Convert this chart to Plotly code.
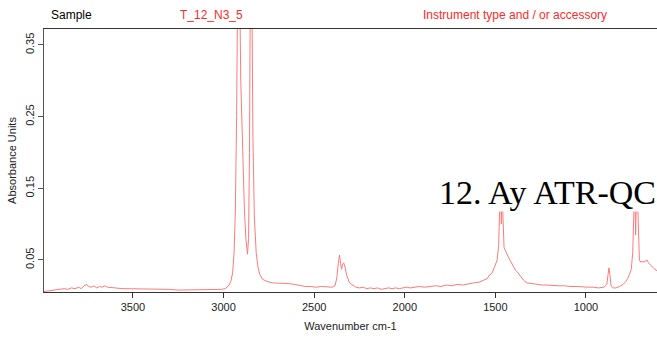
import plotly.graph_objects as go

# Spectrum (wavenumber cm-1, absorbance units)
wavenumber = [
    3991, 3960, 3930, 3900, 3880, 3860, 3840, 3820, 3800, 3785, 3770, 3755, 3745, 3730,
    3715, 3700, 3685, 3670, 3655, 3640, 3620, 3600, 3560, 3520, 3480, 3440, 3400, 3350,
    3300, 3250, 3200, 3150, 3100, 3050, 3010, 2990, 2970, 2960, 2950, 2942, 2935, 2928,
    2922, 2917, 2912, 2905, 2895, 2885, 2877, 2868, 2862, 2857, 2852, 2848, 2843, 2838,
    2830, 2820, 2810, 2800, 2785, 2760, 2730, 2700, 2670, 2640, 2610, 2580, 2550, 2520,
    2490, 2460, 2430, 2400, 2385, 2375, 2367, 2360, 2354, 2349, 2343, 2337, 2330, 2320,
    2305, 2288, 2270, 2250, 2230, 2210, 2190, 2170, 2150, 2130, 2110, 2090, 2070, 2050,
    2030, 2010, 1990, 1970, 1950, 1920, 1890, 1860, 1830, 1800, 1770, 1740, 1710, 1680,
    1650, 1620, 1590, 1565, 1545, 1533, 1520, 1505, 1490, 1482, 1476, 1471, 1467, 1463,
    1458, 1452, 1446, 1440, 1430, 1420, 1405, 1390, 1378, 1365, 1345, 1326, 1300, 1270,
    1240, 1215, 1180, 1150, 1120, 1088, 1050, 1020, 990, 960, 930, 900, 885, 878,
    873, 868, 862, 850, 835, 815, 795, 780, 770, 760, 750, 742, 736, 731,
    726, 720, 715, 710, 705, 698, 690, 680, 670, 663, 655, 640, 625, 608,
]
absorbance = [
    0.006, 0.007, 0.008, 0.009, 0.010, 0.009, 0.011, 0.010, 0.012, 0.010, 0.014, 0.016, 0.013, 0.012,
    0.014, 0.011, 0.013, 0.012, 0.014, 0.012, 0.011, 0.011, 0.010, 0.010, 0.009, 0.009, 0.009, 0.009,
    0.009, 0.008, 0.008, 0.008, 0.008, 0.008, 0.009, 0.010, 0.015, 0.020, 0.032, 0.060, 0.120, 0.250,
    0.450, 0.600, 0.450, 0.300, 0.200, 0.120, 0.080, 0.058, 0.080, 0.200, 0.450, 0.600, 0.400, 0.220,
    0.110, 0.060, 0.040, 0.030, 0.023, 0.020, 0.018, 0.018, 0.018, 0.017, 0.016, 0.014, 0.013, 0.013,
    0.012, 0.013, 0.012, 0.012, 0.014, 0.025, 0.045, 0.057, 0.045, 0.037, 0.044, 0.046, 0.040, 0.028,
    0.018, 0.015, 0.012, 0.011, 0.012, 0.010, 0.011, 0.010, 0.011, 0.009, 0.010, 0.011, 0.010, 0.011,
    0.010, 0.011, 0.012, 0.011, 0.012, 0.013, 0.012, 0.013, 0.014, 0.013, 0.015, 0.014, 0.016, 0.015,
    0.017, 0.018, 0.019, 0.022, 0.024, 0.029, 0.031, 0.040, 0.050, 0.070, 0.120, 0.165, 0.100, 0.165,
    0.110, 0.067, 0.064, 0.060, 0.055, 0.050, 0.042, 0.036, 0.033, 0.028, 0.022, 0.018, 0.017, 0.016,
    0.015, 0.015, 0.014, 0.014, 0.014, 0.013, 0.013, 0.012, 0.012, 0.012, 0.011, 0.012, 0.016, 0.030,
    0.039, 0.030, 0.014, 0.011, 0.011, 0.013, 0.016, 0.020, 0.024, 0.030, 0.037, 0.060, 0.130, 0.160,
    0.085, 0.160, 0.130, 0.070, 0.050, 0.047, 0.048, 0.047, 0.049, 0.050, 0.046, 0.042, 0.038, 0.035,
]

x_ticks = [3500, 3000, 2500, 2000, 1500, 1000]
y_ticks = [0.05, 0.15, 0.25, 0.35]
x_range = [3991, 608]
y_range = [0.0053, 0.3723]

header_sample = "Sample"
header_name = "T_12_N3_5"
header_instrument = "Instrument type and / or accessory"
overlay_label = "12. Ay ATR-QC"

fig = go.Figure()
fig.add_trace(go.Scatter(
    x=wavenumber, y=absorbance, mode="lines",
    line=dict(color="#ff7a7a", width=1), showlegend=False, hoverinfo="skip",
))

L, R, T, B = 44, 0, 29, 57
W, H = 657, 349
pw, ph = W - L - R, H - T - B

def px(xp):
    return (xp - L) / pw

def py(yp):
    return (H - B - yp) / ph

sans = "Liberation Sans, Arial, sans-serif"
annotations = [
    dict(text=header_sample, x=px(49), y=py(15), font=dict(color="black", size=12, family=sans)),
    dict(text=header_name, x=px(178), y=py(15), font=dict(color="#ff2a2a", size=12, family=sans)),
    dict(text=header_instrument, x=px(421), y=py(15), font=dict(color="#ff2a2a", size=12, family=sans)),
]
for a in annotations:
    a.update(xref="paper", yref="paper", xanchor="left", yanchor="middle", showarrow=False)

annotations.append(dict(
    text=overlay_label, xref="paper", yref="paper", x=px(438), y=py(192),
    xanchor="left", yanchor="middle", showarrow=False,
    font=dict(color="black", size=34, family="Liberation Serif, Times New Roman, serif"),
    bgcolor="white", borderpad=0,
))

fig.update_layout(
    width=W, height=H,
    margin=dict(l=L, r=R, t=T, b=B, pad=0),
    paper_bgcolor="white", plot_bgcolor="white",
    font=dict(family=sans, size=11, color="#222"),
    annotations=annotations,
    xaxis=dict(
        range=x_range, tickvals=x_ticks, ticktext=[str(v) for v in x_ticks],
        showgrid=False, zeroline=False, showline=True, linecolor="#333", linewidth=1,
        mirror=True, ticks="outside", ticklen=5, tickcolor="#333",
        tickfont=dict(size=11, color="#222"),
        title=dict(text="Wavenumber cm-1", font=dict(size=11, color="#222"), standoff=10),
    ),
    yaxis=dict(
        range=y_range, tickvals=y_ticks, ticktext=[f"{v:.2f}" for v in y_ticks],
        tickangle=-90,
        showgrid=False, zeroline=False, showline=True, linecolor="#555", linewidth=1,
        ticks="outside", ticklen=5, tickcolor="#555",
        tickfont=dict(size=11, color="#222"),
        title=dict(text="Absorbance Units", font=dict(size=11, color="#222"), standoff=4),
    ),
)

fig.write_html("out.html")
